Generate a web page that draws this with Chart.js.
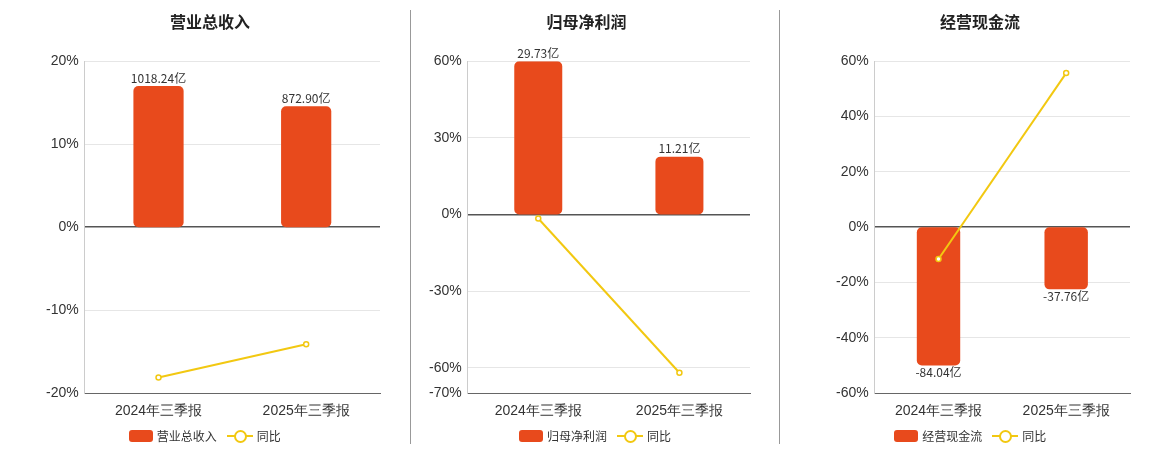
<!DOCTYPE html>
<html><head><meta charset="utf-8">
<script src="https://cdn.jsdelivr.net/npm/chart.js@4/dist/chart.umd.min.js"></script>
<style>
body{margin:0;background:#fff;font-family:"Noto Sans CJK SC","Noto Sans",sans-serif}
#wrap{display:flex;width:1160px;height:450px}
.panel{position:relative;height:450px}
.panel canvas{position:absolute;left:0;top:0}
.sep{border-left:1px solid #999;height:434px;margin-top:10px}
.legend{position:absolute;top:427px;left:0;right:0;display:flex;justify-content:center;gap:10px;font-size:12px;color:#333;align-items:center}
.lg{display:flex;align-items:center;gap:4px}
.box{width:24px;height:12px;background:#e84a1c;border-radius:3px;display:inline-block}
.ln{position:relative;width:26px;height:12px;display:inline-block}
.ln:before{content:"";position:absolute;left:0;right:0;top:5px;border-top:2px solid #f2c811}
.ln:after{content:"";position:absolute;left:7px;top:0;width:9px;height:9px;border:2px solid #f2c811;border-radius:50%;background:#fff}
</style></head><body>
<div id="wrap"></div>
<script>
const categories = ["2024年三季报", "2025年三季报"];
const titles = ["营业总收入", "归母净利润", "经营现金流"];
const barValues = [[1018.24, 872.90], [29.73, 11.21], [-84.04, -37.76]];
const yoyValues = [[-18.1, -14.1], [-1.6, -62.0], [-11.5, 55.7]];
const pctTicks = [[-20, -10, 0, 10, 20], [-70, -60, -30, 0, 30, 60], [-60, -40, -20, 0, 20, 40, 60]];
const barAxisRange = [[-1198, 1198], [-34.685, 29.73], [-100.85, 100.85]];

const widths = [410, 369, 380];
const pads = [[40, 30], [12, 30], [50, 30]];
const wrap = document.getElementById("wrap");

const labelPlugin = {
  id: "barLabels",
  afterDatasetsDraw(chart) {
    const ctx = chart.ctx;
    const meta = chart.getDatasetMeta(0);
    ctx.save();
    ctx.font = "12px 'Noto Sans CJK SC', sans-serif";
    ctx.fillStyle = "#333";
    ctx.textAlign = "center";
    meta.data.forEach((el, i) => {
      const v = chart.data.datasets[0].data[i];
      const txt = v.toFixed(2) + "亿";
      if (v >= 0) { ctx.textBaseline = "bottom"; ctx.fillText(txt, el.x, el.y - 2); }
      else { ctx.textBaseline = "top"; ctx.fillText(txt, el.x, el.y + 1); }
    });
    ctx.restore();
  }
};

titles.forEach((t, k) => {
  if (k > 0) { const s = document.createElement("div"); s.className = "sep"; wrap.appendChild(s); }
  const p = document.createElement("div");
  p.className = "panel";
  p.style.width = widths[k] + "px";
  const c = document.createElement("canvas");
  c.width = widths[k];
  c.height = 450;
  c.style.width = widths[k] + "px";
  c.style.height = "450px";
  p.appendChild(c);
  const lg = document.createElement("div");
  lg.className = "legend";
  lg.innerHTML = '<span class="lg"><span class="box"></span>' + t + '</span><span class="lg"><span class="ln"></span>同比</span>';
  p.appendChild(lg);
  wrap.appendChild(p);
  const ticks = pctTicks[k];
  new Chart(c, {
    data: {
      labels: categories,
      datasets: [
        { type: "bar", data: barValues[k], yAxisID: "y1", backgroundColor: "#e84a1c", borderRadius: 5, borderSkipped: false, barPercentage: 0.34, categoryPercentage: 1, order: 2 },
        { type: "line", data: yoyValues[k], yAxisID: "y", borderColor: "#f2c811", borderWidth: 2, pointRadius: 2.5, pointBackgroundColor: "#fff", pointBorderColor: "#f2c811", pointBorderWidth: 1.5, order: 1 }
      ]
    },
    options: {
      responsive: false, animation: false, devicePixelRatio: 1,
      layout: { padding: { left: pads[k][0], right: pads[k][1], top: 0, bottom: 28 } },
      plugins: {
        legend: { display: false }, tooltip: { enabled: false },
        title: { display: true, text: t, color: "#222", font: { size: 16, weight: "bold", family: "'Noto Sans CJK SC', sans-serif" }, padding: { top: 12, bottom: 30 } }
      },
      scales: {
        x: { grid: { display: false }, border: { color: "#666" }, ticks: { color: "#333", font: { size: 14 }, padding: 2 } },
        y: {
          min: ticks[0], max: ticks[ticks.length - 1],
          afterBuildTicks: s => { s.ticks = ticks.map(v => ({ value: v })); },
          ticks: { color: "#333", font: { size: 14 }, padding: 6, callback: v => v + "%" },
          grid: { color: ctx => ctx.tick && ctx.tick.value === 0 ? "#555" : "#e6e6e6", lineWidth: ctx => ctx.tick && ctx.tick.value === 0 ? 1.5 : 1, drawTicks: false },
          border: { color: "#ccc" }
        },
        y1: { display: false, min: barAxisRange[k][0], max: barAxisRange[k][1] }
      }
    },
    plugins: [labelPlugin]
  });
});
</script>
</body></html>
